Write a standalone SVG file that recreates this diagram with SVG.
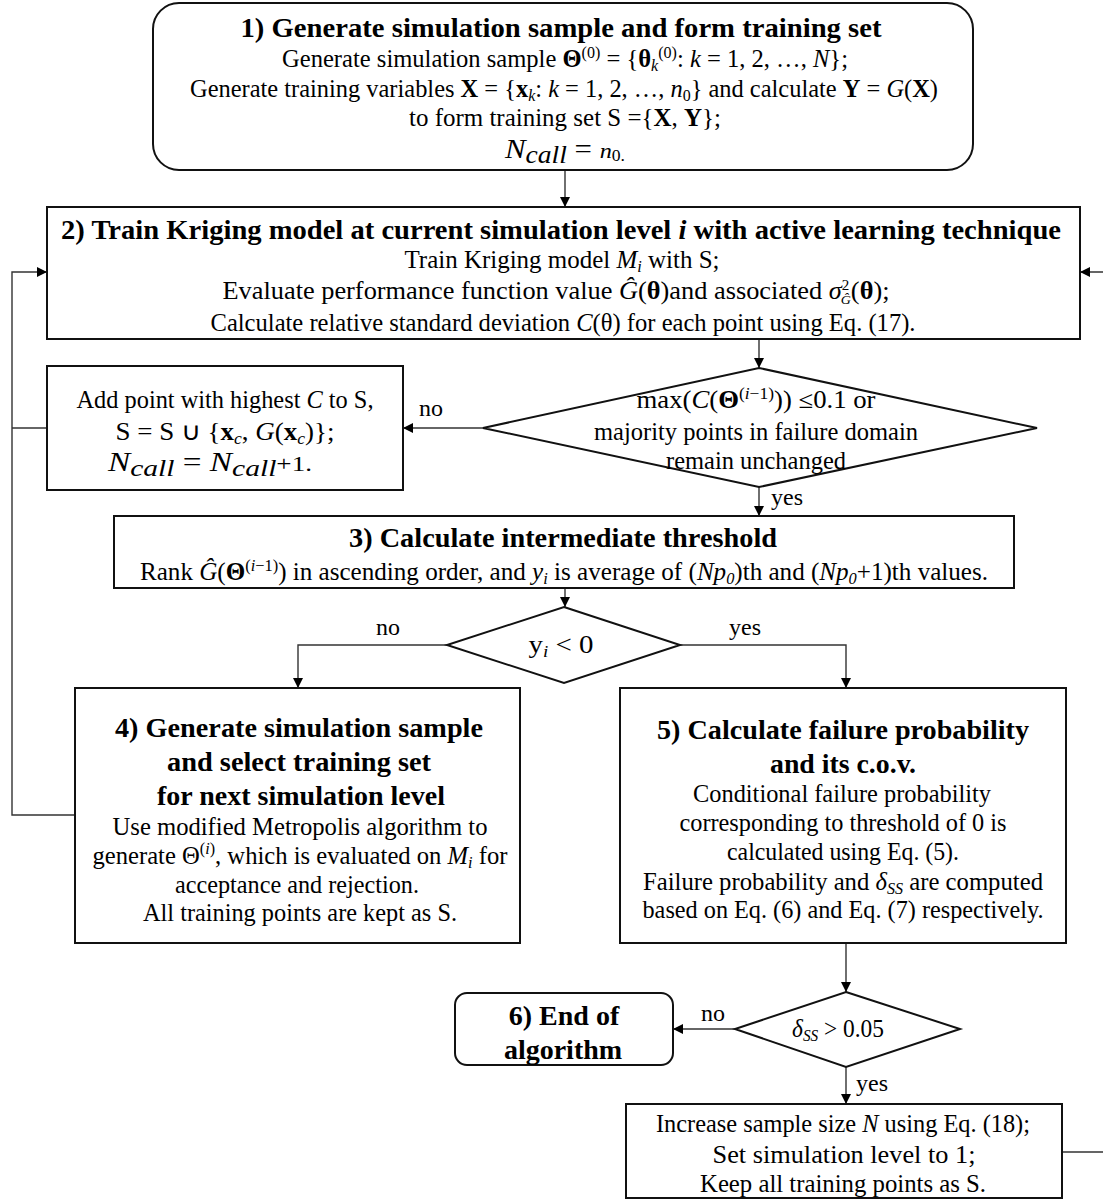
<svg xmlns="http://www.w3.org/2000/svg" width="1103" height="1200" viewBox="0 0 1103 1200">
<defs>
<marker id="ah" viewBox="0 0 10 10" refX="10" refY="5" markerWidth="10" markerHeight="10" markerUnits="userSpaceOnUse" orient="auto">
<path d="M0,0 L10,5 L0,10 z" fill="#000"/>
</marker>
<style>
.box{fill:#fff;stroke:#111;stroke-width:2}
.con{fill:none;stroke:#333;stroke-width:1.4}
text{font-family:"Liberation Serif","Times New Roman",serif;fill:#000;text-anchor:middle}
.t{font-weight:bold;font-size:28px}
.b{font-size:24.5px}
.i{font-style:italic}
.bf{font-weight:bold}
.lab{font-size:24px}
.s{font-size:16px}
</style>
</defs>
<rect width="1103" height="1200" fill="#fff"/>

<g id="connectors">
<path class="con" d="M565,170 V207" marker-end="url(#ah)"/>
<path class="con" d="M759,339 V368" marker-end="url(#ah)"/>
<path class="con" d="M483,428 H403" marker-end="url(#ah)"/>
<path class="con" d="M759,487 V516" marker-end="url(#ah)"/>
<path class="con" d="M565,588 V607" marker-end="url(#ah)"/>
<path class="con" d="M447,645 H298 V688" marker-end="url(#ah)"/>
<path class="con" d="M680,645 H846 V688" marker-end="url(#ah)"/>
<path class="con" d="M47,428 H12"/>
<path class="con" d="M75,815 H12 V272 H47" marker-end="url(#ah)"/>
<path class="con" d="M846,943 V992" marker-end="url(#ah)"/>
<path class="con" d="M735,1029 H673" marker-end="url(#ah)"/>
<path class="con" d="M846,1067 V1104" marker-end="url(#ah)"/>
<path class="con" d="M1062,1152 H1112 V272 H1080" marker-end="url(#ah)"/>
<text class="lab" x="431" y="416">no</text>
<text class="lab" x="787" y="505">yes</text>
<text class="lab" x="388" y="635">no</text>
<text class="lab" x="745" y="635">yes</text>
<text class="lab" x="713" y="1021">no</text>
<text class="lab" x="872" y="1091">yes</text>
</g>

<g id="node1">
<rect class="box" x="153" y="3" width="820" height="167" rx="26"/>
<text class="t" x="561" y="37" textLength="641" lengthAdjust="spacingAndGlyphs">1) Generate simulation sample and form training set</text>
<text class="b" x="565" y="67" textLength="566" lengthAdjust="spacingAndGlyphs">Generate simulation sample <tspan class="bf">Θ</tspan><tspan class="s" dy="-9">(0)</tspan><tspan dy="9"> = {</tspan><tspan class="bf">θ</tspan><tspan class="i s" dy="4">k</tspan><tspan class="s" dy="-13">(0)</tspan><tspan dy="9">: </tspan><tspan class="i">k</tspan> = 1, 2, …, <tspan class="i">N</tspan>};</text>
<text class="b" x="564" y="97" textLength="748" lengthAdjust="spacingAndGlyphs">Generate training variables <tspan class="bf">X</tspan> = {<tspan class="bf">x</tspan><tspan class="i s" dy="4">k</tspan><tspan dy="-4">: </tspan><tspan class="i">k</tspan> = 1, 2, …, <tspan class="i">n</tspan><tspan class="s" dy="4">0</tspan><tspan dy="-4">} and calculate </tspan><tspan class="bf">Y</tspan> = <tspan class="i">G</tspan>(<tspan class="bf">X</tspan>)</text>
<text class="b" x="565" y="126" textLength="312" lengthAdjust="spacingAndGlyphs">to form training set S ={<tspan class="bf">X</tspan>, <tspan class="bf">Y</tspan>};</text>
<text x="565" y="158" font-size="28" textLength="120" lengthAdjust="spacingAndGlyphs"><tspan class="i">N</tspan><tspan class="i" font-size="25" dy="5">call</tspan><tspan dy="-5"> = </tspan><tspan class="i" font-size="22">n</tspan><tspan class="s" dy="3">0.</tspan></text>
</g>

<g id="node2">
<rect class="box" x="47" y="207" width="1033" height="132"/>
<text class="t" x="561" y="239" textLength="1000" lengthAdjust="spacingAndGlyphs">2) Train Kriging model at current simulation level <tspan class="i">i</tspan> with active learning technique</text>
<text class="b" x="562" y="268" textLength="315" lengthAdjust="spacingAndGlyphs">Train Kriging model <tspan class="i">M</tspan><tspan class="i s" dy="4">i</tspan><tspan dy="-4"> with S;</tspan></text>
<text class="b" x="556" y="299" textLength="667" lengthAdjust="spacingAndGlyphs">Evaluate performance function value <tspan class="i">Ĝ</tspan>(<tspan class="bf">θ</tspan>)and associated <tspan class="i">σ</tspan><tspan font-size="14" dy="-9">2</tspan><tspan class="i" font-size="13" dx="-8" dy="14">Ĝ</tspan><tspan dy="-5">(</tspan><tspan class="bf">θ</tspan>);</text>
<text class="b" x="563" y="331" textLength="705" lengthAdjust="spacingAndGlyphs">Calculate relative standard deviation <tspan class="i">C</tspan>(θ) for each point using Eq. (17).</text>
</g>

<g id="node-add">
<rect class="box" x="47" y="366" width="356" height="124"/>
<text class="b" x="225" y="408" textLength="297" lengthAdjust="spacingAndGlyphs">Add point with highest <tspan class="i">C</tspan> to S,</text>
<text class="b" x="225" y="440" textLength="219" lengthAdjust="spacingAndGlyphs">S = S ∪ {<tspan class="bf">x</tspan><tspan class="i s" dy="4">c</tspan><tspan dy="-4">, </tspan><tspan class="i">G</tspan>(<tspan class="bf">x</tspan><tspan class="i s" dy="4">c</tspan><tspan dy="-4">)};</tspan></text>
<text x="210" y="471" font-size="27" textLength="204" lengthAdjust="spacingAndGlyphs"><tspan class="i">N</tspan><tspan class="i" font-size="24" dy="5">call</tspan><tspan dy="-5"> = </tspan><tspan class="i">N</tspan><tspan class="i" font-size="24" dy="5">call</tspan><tspan dy="-5" font-size="22">+1.</tspan></text>
</g>

<g id="decision1">
<polygon class="box" points="759,368 1037,428 759,487 483,428"/>
<text class="b" x="756" y="408" textLength="239" lengthAdjust="spacingAndGlyphs">max(<tspan class="i">C</tspan>(<tspan class="bf">Θ</tspan><tspan class="s" dy="-9">(</tspan><tspan class="i s">i</tspan><tspan class="s">−1)</tspan><tspan dy="9">)) ≤0.1 or</tspan></text>
<text class="b" x="756" y="440" textLength="324" lengthAdjust="spacingAndGlyphs">majority points in failure domain</text>
<text class="b" x="756" y="469" textLength="180" lengthAdjust="spacingAndGlyphs">remain unchanged</text>
</g>

<g id="node3">
<rect class="box" x="114" y="516" width="900" height="72"/>
<text class="t" x="563" y="547" textLength="428" lengthAdjust="spacingAndGlyphs">3) Calculate intermediate threshold</text>
<text class="b" x="564" y="580" textLength="848" lengthAdjust="spacingAndGlyphs">Rank <tspan class="i">Ĝ</tspan>(<tspan class="bf">Θ</tspan><tspan class="s" dy="-9">(</tspan><tspan class="i s">i</tspan><tspan class="s">−1)</tspan><tspan dy="9">) in ascending order, and </tspan><tspan class="i">y</tspan><tspan class="i s" dy="4">i</tspan><tspan dy="-4"> is average of (</tspan><tspan class="i">Np</tspan><tspan class="i s" dy="4">0</tspan><tspan dy="-4">)th and (</tspan><tspan class="i">Np</tspan><tspan class="i s" dy="4">0</tspan><tspan dy="-4">+1)th values.</tspan></text>
</g>

<g id="decision2">
<polygon class="box" points="564,607 680,645 564,683 447,645"/>
<text class="b" x="561" y="653" textLength="65" lengthAdjust="spacingAndGlyphs">y<tspan class="i s" dy="4">i</tspan><tspan dy="-4"> &lt; 0</tspan></text>
</g>

<g id="node4">
<rect class="box" x="75" y="688" width="445" height="255"/>
<text class="t" x="299" y="737" textLength="368" lengthAdjust="spacingAndGlyphs">4) Generate simulation sample</text>
<text class="t" x="299" y="771" textLength="264" lengthAdjust="spacingAndGlyphs">and select training set</text>
<text class="t" x="301" y="805" textLength="288" lengthAdjust="spacingAndGlyphs">for next simulation level</text>
<text class="b" x="300" y="835" textLength="375" lengthAdjust="spacingAndGlyphs">Use modified Metropolis algorithm to</text>
<text class="b" x="300" y="864" textLength="415" lengthAdjust="spacingAndGlyphs">generate Θ<tspan class="s" dy="-10">(</tspan><tspan class="i s">i</tspan><tspan class="s">)</tspan><tspan dy="10">, which is evaluated on </tspan><tspan class="i">M</tspan><tspan class="i s" dy="4">i</tspan><tspan dy="-4"> for</tspan></text>
<text class="b" x="297" y="893" textLength="244" lengthAdjust="spacingAndGlyphs">acceptance and rejection.</text>
<text class="b" x="300" y="921" textLength="314" lengthAdjust="spacingAndGlyphs">All training points are kept as S.</text>
</g>

<g id="node5">
<rect class="box" x="620" y="688" width="446" height="255"/>
<text class="t" x="843" y="739" textLength="372" lengthAdjust="spacingAndGlyphs">5) Calculate failure probability</text>
<text class="t" x="843" y="773" textLength="146" lengthAdjust="spacingAndGlyphs">and its c.o.v.</text>
<text class="b" x="842" y="802" textLength="298" lengthAdjust="spacingAndGlyphs">Conditional failure probability</text>
<text class="b" x="843" y="831" textLength="327" lengthAdjust="spacingAndGlyphs">corresponding to threshold of 0 is</text>
<text class="b" x="843" y="860" textLength="232" lengthAdjust="spacingAndGlyphs">calculated using Eq. (5).</text>
<text class="b" x="843" y="890" textLength="400" lengthAdjust="spacingAndGlyphs">Failure probability and <tspan class="i">δ</tspan><tspan class="i s" dy="4">SS</tspan><tspan dy="-4"> are computed</tspan></text>
<text class="b" x="843" y="918" textLength="401" lengthAdjust="spacingAndGlyphs">based on Eq. (6) and Eq. (7) respectively.</text>
</g>

<g id="decision3">
<polygon class="box" points="846,992 960,1029 846,1067 735,1029"/>
<text class="b" x="838" y="1037" textLength="92" lengthAdjust="spacingAndGlyphs"><tspan class="i">δ</tspan><tspan class="i s" dy="4">SS</tspan><tspan dy="-4"> &gt; 0.05</tspan></text>
</g>

<g id="node6">
<rect class="box" x="455" y="993" width="218" height="72" rx="12"/>
<text class="t" x="564" y="1025">6) End of</text>
<text class="t" x="563" y="1059">algorithm</text>
</g>

<g id="node7">
<rect class="box" x="626" y="1104" width="436" height="94"/>
<text class="b" x="843" y="1132" textLength="374" lengthAdjust="spacingAndGlyphs">Increase sample size <tspan class="i">N</tspan> using Eq. (18);</text>
<text class="b" x="844" y="1163" textLength="263" lengthAdjust="spacingAndGlyphs">Set simulation level to 1;</text>
<text class="b" x="843" y="1192" textLength="286" lengthAdjust="spacingAndGlyphs">Keep all training points as S.</text>
</g>
</svg>
